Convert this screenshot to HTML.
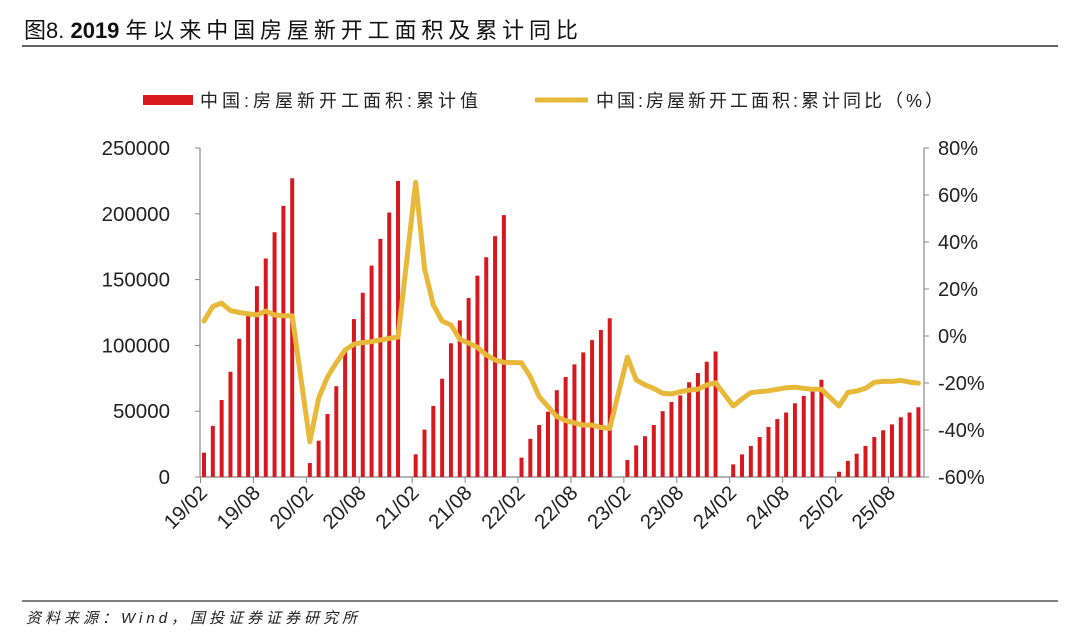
<!DOCTYPE html>
<html><head><meta charset="utf-8"><style>
body{margin:0;background:#fff;width:1080px;height:639px;overflow:hidden;font-family:"Liberation Sans","Noto Sans CJK SC",sans-serif;}
</style></head><body>
<svg id="c" width="1080" height="639" xmlns="http://www.w3.org/2000/svg">
<text x="24" y="38" font-size="22" font-weight="bold" fill="#111" font-family="Liberation Sans, Noto Sans CJK SC, sans-serif"><tspan font-weight="normal">图8. </tspan>2019 <tspan font-weight="normal" letter-spacing="4.9">年以来中国房屋新开工面积及累计同比</tspan></text>
<line x1="22" y1="46" x2="1058" y2="46" stroke="#333" stroke-width="1.5"/>
<line x1="22" y1="601" x2="1058" y2="601" stroke="#333" stroke-width="1.2"/>
<text x="26" y="623" font-size="15" font-style="italic" letter-spacing="4" fill="#222" font-family="Liberation Sans, Noto Sans CJK SC, sans-serif">资料来源：Wind，国投证券证券研究所</text>
<g>
<rect x="143" y="95" width="50" height="10" fill="#d7191f"/>
<text x="200" y="107" font-size="18" letter-spacing="4" fill="#222" font-family="Liberation Sans, Noto Sans CJK SC, sans-serif">中国:房屋新开工面积:累计值</text>
<line x1="535" y1="100" x2="588" y2="100" stroke="#e8b83a" stroke-width="5"/>
<text x="596" y="107" font-size="18" letter-spacing="3" fill="#222" font-family="Liberation Sans, Noto Sans CJK SC, sans-serif">中国:房屋新开工面积:累计同比（%）</text>
</g>
<g id="axes"></g><g id="bars"></g><g id="lines"></g>
</svg>
<script>
const years=[2019,2020,2021,2022,2023,2024,2025];
const barValues=[
[18.5,38.8,58.5,80,105,123,145,166,186,206,227],
[10.6,27.6,47.9,69,97,120,140,160.6,181,201,225],
[17.2,36,54,74.7,101.6,119,136,153,167,183,199],
[14.7,29,39.5,49.6,66,76,85.6,94.7,104,111.7,120.6],
[12.9,24,31,39.5,50,57,62,72,79,87.6,95.4],
[9.6,17.2,23.6,30.4,38,44,49,56,61.6,65,73.9],
[4,12.2,17.7,23.6,30.4,35.5,40,45.4,49,53]];
const yoyValues=[
[6.4,12.5,14,10.8,10,9.4,9,10.6,9,8.6,8.6],
[-45,-26.4,-17.4,-11.4,-6,-3.5,-2.8,-2.4,-1.7,-1,-0.5],
[65.4,28.8,13.2,6.4,4.7,-1.4,-3,-4.8,-8,-10.2,-11.2],
[-11.4,-17.3,-25.8,-30,-34.3,-36,-37,-37.9,-37.9,-38.9,-39.3],
[-9,-18.7,-20.8,-22.3,-24.4,-24.7,-23.7,-23,-22.7,-20.8,-19.9],
[-29.8,-26.8,-24.1,-23.7,-23.3,-22.7,-22,-21.8,-22.3,-22.7,-22.7],
[-29.8,-24,-23.4,-22.3,-19.7,-19.3,-19.3,-18.9,-19.6,-20.1]];
const leftTicks=[0,50000,100000,150000,200000,250000];
const rightTicks=[-60,-40,-20,0,20,40,60,80];
const xLabels=["19/02","19/08","20/02","20/08","21/02","21/08","22/02","22/08","23/02","23/08","24/02","24/08","25/02","25/08"];
const NS="http://www.w3.org/2000/svg";
const X0=204,DX=8.82,YB=477,YT=148;
const xs=i=>X0+i*DX;
const yl=v=>YB-(v/250000)*(YB-YT);
const yr=v=>YB-((v+60)/140)*(YB-YT);
function mk(t,a,p){const e=document.createElementNS(NS,t);for(const k in a)e.setAttribute(k,a[k]);p.appendChild(e);return e;}
const ax=document.getElementById('axes'),bg=document.getElementById('bars'),lg=document.getElementById('lines');
const F="Liberation Sans, sans-serif";
let a=mk('line',{x1:200,y1:YT,x2:200,y2:YB,stroke:'#888','stroke-width':1.2},ax);


a=mk('line',{x1:924,y1:YT,x2:924,y2:YB,stroke:'#888','stroke-width':1.2},ax);


a=mk('line',{x1:200,y1:YB,x2:924,y2:YB,stroke:'#888','stroke-width':1.2},ax);


leftTicks.forEach(v=>{const y=yl(v);
 mk('line',{x1:195,y1:y,x2:200,y2:y,stroke:'#888'},ax);
 const t=mk('text',{x:170,y:y+7,'text-anchor':'end','font-size':20.5,fill:'#222','font-family':F},ax);t.textContent=v;
 
 });
rightTicks.forEach(v=>{const y=yr(v);
 mk('line',{x1:924,y1:y,x2:929,y2:y,stroke:'#888'},ax);
 const t=mk('text',{x:938,y:y+7,'font-size':20,fill:'#222','font-family':F},ax);t.textContent=v+'%';
 
 });
xLabels.forEach((l,k)=>{const x=xs(k*6)-3.5;
 mk('line',{x1:x,y1:YB,x2:x,y2:YB+6,stroke:'#888'},ax);
 const t=mk('text',{x:x+8,y:YB+17,'text-anchor':'end','font-size':20.5,fill:'#222','font-family':F,transform:`rotate(-45 ${x+8} ${YB+17})`},ax);t.textContent=l;
 
 });
let pts=[];
years.forEach((yr_,yi)=>{
 barValues[yi].forEach((v,m)=>{const i=yi*12+m;const x=xs(i);const y=yl(v*1000);
  const r=mk('rect',{x:x-2,y:y,width:4,height:YB-y,fill:'#d7191f'},bg);
  
  });
 yoyValues[yi].forEach((v,m)=>{pts.push(xs(yi*12+m).toFixed(1)+','+yr(v).toFixed(1));});
});
const pl=mk('polyline',{points:pts.join(' '),fill:'none',stroke:'#e8b83a','stroke-width':5,'stroke-linejoin':'round','stroke-linecap':'round'},lg);


</script>
</body></html>
